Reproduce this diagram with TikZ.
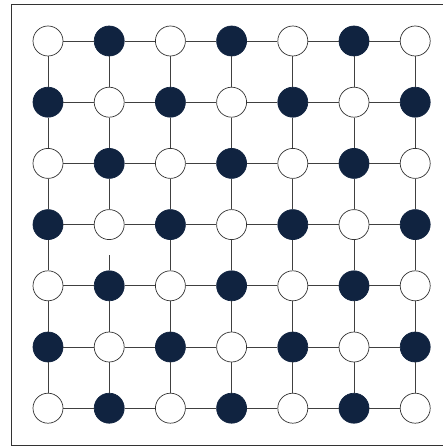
\documentclass[tikz,border=0pt]{standalone}
\usepackage{xcolor}
\definecolor{stoneblue}{RGB}{16,35,64}
\tikzset{
  pt/.style={circle,draw=black!80,line width=0.7pt,minimum size=30pt,inner sep=0pt},
  lightpt/.style={pt,fill=white},
  darkpt/.style={pt,fill=stoneblue,draw=stoneblue},
  link/.style={draw=black!75,line width=0.8pt}
}
\begin{document}
\begin{tikzpicture}[x=1pt,y=-1pt]
\useasboundingbox (0,0) rectangle (442,446);
\draw[black!80,line width=0.8pt] (11,4) rectangle (444,445);
% the points of the grid
\foreach \r in {0,...,6}
  \foreach \c in {0,...,6}{
    \pgfmathparse{int(mod(\r+\c,2))}
    \ifnum\pgfmathresult=1
      \node[darkpt] (n-\r-\c) at (48+61.2*\c,41+61.2*\r) {};
    \else
      \node[lightpt] (n-\r-\c) at (48+61.2*\c,41+61.2*\r) {};
    \fi
  }
% links along the rows
\foreach \r in {0,...,6}
  \foreach \c in {0,...,5}{
    \pgfmathtruncatemacro\nx{\c+1}
    \draw[link] (n-\r-\c) -- (n-\r-\nx);
  }
% links down the columns, one of them broken
\foreach \r in {0,...,5}
  \foreach \c in {0,...,6}{
    \pgfmathtruncatemacro\ny{\r+1}
    \ifnum\r=3 \ifnum\c=1 \else
      \draw[link] (n-\r-\c) -- (n-\ny-\c);
    \fi \else
      \draw[link] (n-\r-\c) -- (n-\ny-\c);
    \fi
  }
\coordinate (stub) at (48+61.2,255);
\draw[link] (n-4-1) -- (stub);
\end{tikzpicture}
\end{document}
